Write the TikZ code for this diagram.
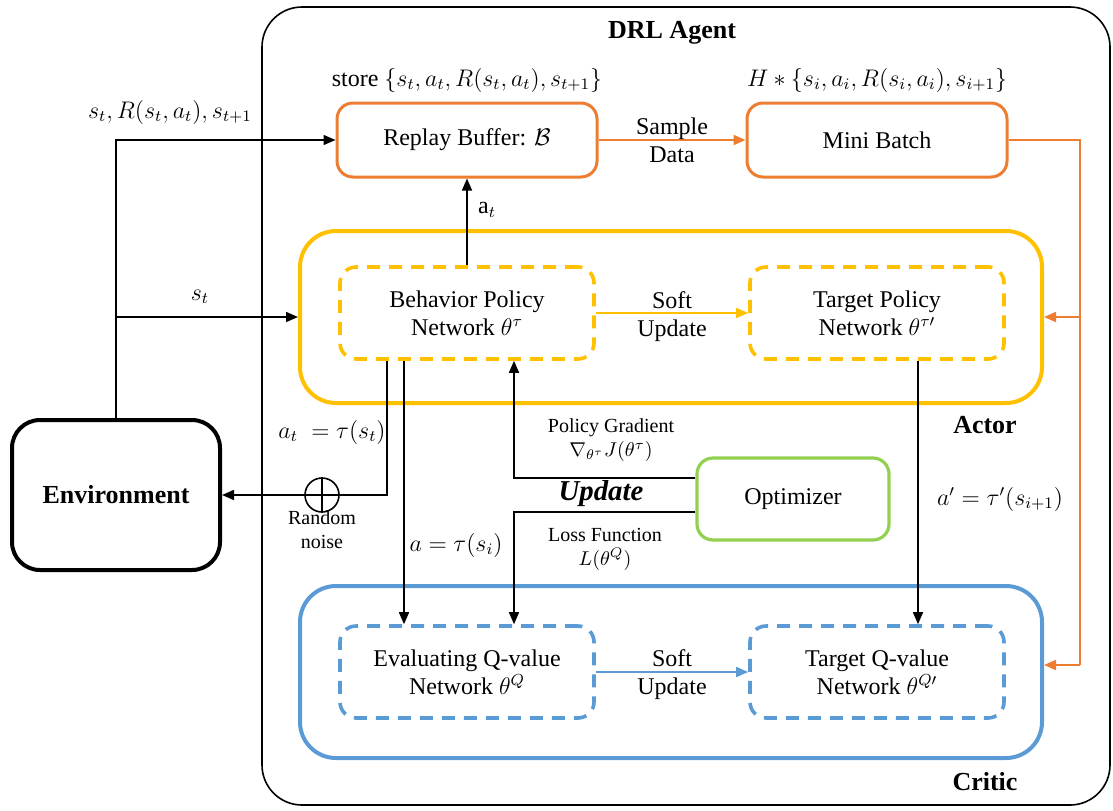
\documentclass[tikz,border=0pt]{standalone}
\usepackage{fontspec}
\setmainfont{Liberation Serif}
\usetikzlibrary{arrows.meta}
\definecolor{buforange}{HTML}{ED7D31}
\definecolor{actyellow}{HTML}{FFC000}
\definecolor{critblue}{HTML}{5B9BD5}
\definecolor{optgreen}{HTML}{92D050}
\tikzset{
every picture/.style={x=0.5pt,y=-0.5pt,>={Triangle[length=6pt,width=5pt]}},
bufbox/.style={draw=buforange,line width=1.5pt,rounded corners=8pt,minimum width=130pt,minimum height=37pt,font=\large},
netbox/.style={line width=1.8pt,dash pattern=on 6.5pt off 4.5pt,rounded corners=8pt,minimum width=127pt,minimum height=46pt,align=center,font=\large},
groupbox/.style={line width=2pt,rounded corners=18pt,minimum width=371pt,minimum height=86pt},
lbl/.style={align=center,font=\normalsize},
headlbl/.style={font=\fontsize{13}{15}\selectfont\bfseries}
}
\newcommand{\softupd}[3]{%
\draw[->,#1,line width=0.8pt] (#2.east) -- (#3.west);
}

\begin{document}
\begin{tikzpicture}
\useasboundingbox (0,0) rectangle (1113,810);

% agent frame
\node[draw,line width=0.8pt,rounded corners=20pt,minimum width=424pt,minimum height=399pt] (agent) at (686,406) {};
\node[headlbl] (agenttitle) at (672,33) {DRL Agent};

% replay buffer and mini batch
\node[bufbox] (rb) at (467,140) {Replay Buffer: $\mathcal{B}$};
\node[bufbox] (mb) at (877,140) {Mini Batch};
\node[lbl,font=\large] (storelbl) at (467,80) {store $\{s_t,a_t,R(s_t,a_t),s_{t+1}\}$};
\node[lbl,font=\large] (hlbl) at (877,80) {$H*\{s_i,a_i,R(s_i,a_i),s_{i+1}\}$};
\draw[->,buforange,line width=1pt] (rb.east) -- (mb.west);
\node[lbl,font=\large] (samplelbl) at (672,140) {Sample\\Data};

% actor
\node[groupbox,draw=actyellow] (actor) at (671,317) {};
\node[headlbl] (actorlbl) at (985,425) {Actor};
\node[netbox,draw=actyellow] (bp) at (467,313) {Behavior Policy\\Network $\theta^{\tau}$};
\node[netbox,draw=actyellow] (tp) at (877,313) {Target Policy\\Network $\theta^{\tau\prime}$};
\softupd{actyellow}{bp}{tp}
\node[lbl,font=\large] (softa) at (672,317) {Soft\\Update};

% critic
\node[groupbox,draw=critblue] (critic) at (671,672) {};
\node[headlbl] (criticlbl) at (985,782) {Critic};
\node[netbox,draw=critblue] (ev) at (467,672) {Evaluating Q-value\\Network $\theta^{Q}$};
\node[netbox,draw=critblue] (tq) at (877,672) {Target Q-value\\Network $\theta^{Q\prime}$};
\softupd{critblue}{ev}{tq}
\node[lbl,font=\large] (softc) at (672,675) {Soft\\Update};

% environment
\node[draw,line width=2pt,rounded corners=14pt,minimum width=104pt,minimum height=75pt,font=\fontsize{13}{15}\selectfont\bfseries] (env) at (116,495) {Environment};
\draw[->,line width=0.8pt] (env.north) |- (rb.west);
\draw[->,line width=0.8pt] (env.north |- actor.west) -- (actor.west);
\node[lbl,font=\large] (envlbl) at (170,112) {$s_t,R(s_t,a_t),s_{t+1}$};
\node[lbl,font=\large] (stlbl) at (200,297) {$s_t$};

% behaviour action with noise
\node[draw,circle,line width=0.8pt,minimum size=17pt,inner sep=0pt] (noise) at (322,495) {};
\draw[line width=0.8pt] (noise.north) -- (noise.south) (noise.west) -- (noise.east);
\node[lbl] (noiselbl) at (322,530) {Random\\noise};
\draw[line width=0.8pt] ([xshift=-40pt]bp.south) |- (noise.east);
\draw[->,line width=0.8pt] (noise.west) -- (env.east);
\node[lbl,font=\large] (atlbl) at (332,432) {$a_t\;=\tau(s_t)$};
\draw[->,line width=0.8pt] (bp.north) -- (rb.south);
\node[lbl,font=\large] (atup) at (487,210) {$\mathrm{a}_t$};

% into critic
\draw[->,line width=0.8pt] ([xshift=-31.5pt]bp.south) -- ([xshift=-31.5pt]ev.north);
\node[lbl,font=\large] (alabel) at (456,545) {$a=\tau(s_i)$};
\draw[->,line width=0.8pt] ([xshift=20.5pt]tp.south) -- ([xshift=20.5pt]tq.north);
\node[lbl,font=\large] (aplbl) at (1000,499) {$a'=\tau'(s_{i+1})$};

% optimizer
\node[draw=optgreen,line width=1.6pt,rounded corners=8pt,minimum width=96pt,minimum height=41pt,font=\large] (opt) at (793,499) {Optimizer};
\draw[->,line width=0.8pt] ([yshift=10.5pt]opt.west) -| ([xshift=23.5pt]bp.south);
\draw[->,line width=0.8pt] ([yshift=-6.5pt]opt.west) -| ([xshift=23.5pt]ev.north);
\node[lbl] (pglbl) at (611,440) {Policy Gradient\\$\nabla_{\theta^{\tau}}J(\theta^{\tau})$};
\node[lbl,font=\Large\bfseries\itshape] (updlbl) at (601,494) {Update};
\node[lbl] (lflbl) at (605,549) {Loss Function\\$L(\theta^{Q})$};

% mini batch feed
\coordinate (feed) at (1080,140);
\coordinate (feedend) at (1080,665);
\draw[buforange,line width=1pt] (mb.east) -- (feed) -- (feedend);
\draw[->,buforange,line width=1pt] (feed |- actor.east) -- (actor.east);
\draw[->,buforange,line width=1pt] (feedend) -- (critic.east |- feedend);
\end{tikzpicture}
\end{document}
